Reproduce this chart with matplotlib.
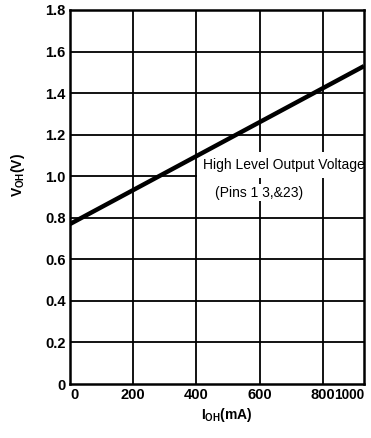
import numpy as np
import matplotlib.pyplot as plt

# output-high voltage vs output-high current
i_oh = [0, 930]          # mA, right edge of the plotted range
v_oh = [0.77, 1.53]      # V

x_grid = [0, 200, 400, 600, 800]
x_ticks = [0, 200, 400, 600, 800, 930]
x_labels = ["0", "200", "400", "600", "800", "1000"]
y_ticks = [0, 0.2, 0.4, 0.6, 0.8, 1.0, 1.2, 1.4, 1.6, 1.8]
y_labels = ["0", "0.2", "0.4", "0.6", "0.8", "1.0", "1.2", "1.4", "1.6", "1.8"]

plt.rcParams['font.family'] = ['Liberation Sans', 'DejaVu Sans']

fig = plt.figure(figsize=(3.71, 4.38), dpi=100)
ax = fig.add_axes([70/371, 1-384/438, 294/371, 374/438])

ax.set_xlim(0, 930)
ax.set_ylim(0, 1.8)

for x in x_grid[1:]:
    ax.axvline(x, color='black', lw=1.3, zorder=1)
for y in y_ticks[1:-1]:
    ax.axhline(y, color='black', lw=1.3, zorder=1)

ax.plot(i_oh, v_oh, color='black', lw=3.2, solid_capstyle='butt', zorder=5)

for s in ax.spines.values():
    s.set_linewidth(1.8)
    s.set_zorder(6)

ax.set_xticks(x_ticks)
ax.set_xticklabels(x_labels, fontsize=10.5, fontweight='bold')
ax.set_yticks(y_ticks)
ax.set_yticklabels(y_labels, fontsize=10.5, fontweight='bold')
ax.tick_params(length=0, pad=3)
ax.get_xticklabels()[-1].set_horizontalalignment('right')
ax.get_xticklabels()[-1].set_fontsize(9.8)
ax.get_xticklabels()[0].set_horizontalalignment('left')

ax.text(0.727, 0.586, "High Level Output Voltage", transform=ax.transAxes,
        ha='center', va='center', fontsize=10, zorder=4,
        bbox=dict(facecolor='white', edgecolor='none', pad=4.5))
ax.text(0.643, 0.511, "(Pins 1 3,&23)", transform=ax.transAxes,
        ha='center', va='center', fontsize=10, zorder=4,
        bbox=dict(facecolor='white', edgecolor='none', pad=1))

fig.text(18/371, 1-175/438, r"$\mathregular{V_{OH}}$(V)", rotation=90,
         ha='center', va='center', fontsize=10, fontweight='bold')
fig.text(227/371, 1-415/438, r"$\mathregular{I_{OH}}$(mA)",
         ha='center', va='center', fontsize=10, fontweight='bold')

fig.savefig("out.png", dpi=100)
